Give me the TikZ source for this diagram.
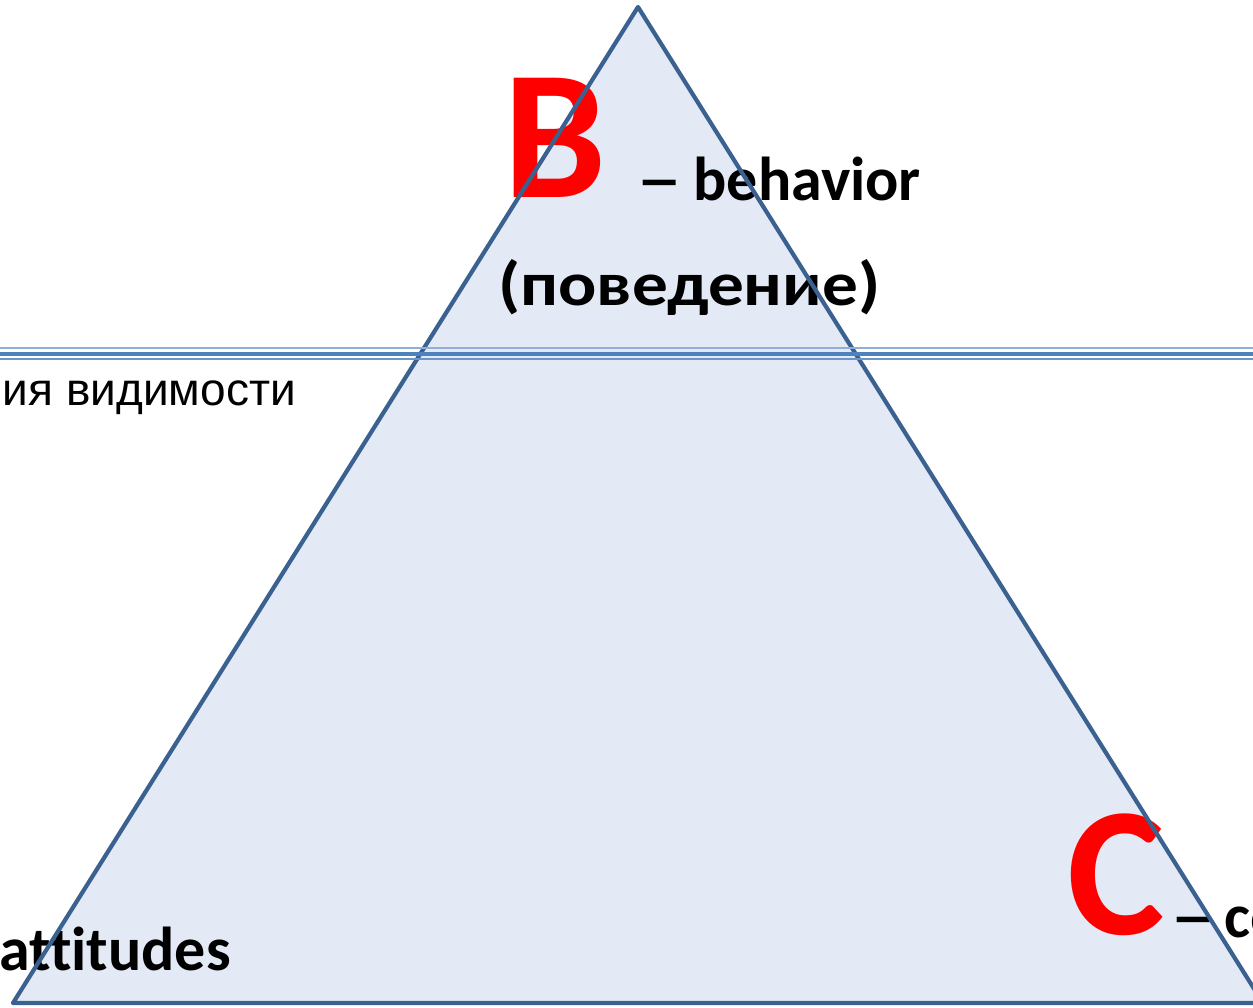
\documentclass[tikz,border=0pt]{standalone}
\usepackage{fontspec}
\setmainfont{Carlito}[Ligatures={NoCommon}]
\newfontfamily\arialf{Liberation Sans}
\definecolor{trifill}{HTML}{E3EAF5}
\definecolor{triedge}{HTML}{3A6190}
\definecolor{lineA}{HTML}{8EB0DB}
\definecolor{lineB}{HTML}{4F81BD}
\definecolor{lineC}{HTML}{6A95CC}
\definecolor{bigred}{HTML}{FF0000}
\newcommand{\longdash}{\scalebox{1.5}[1]{–}}
\tikzset{
  bigletter/.style={inner sep=0pt, anchor=base west, text=bigred, font=\fontsize{184}{184}\selectfont\bfseries},
  label/.style={inner sep=0pt, anchor=base west, font=\fontsize{62}{62}\selectfont\bfseries},
  plain/.style={inner sep=0pt, font=\arialf\fontsize{46}{46}\selectfont},
  edge/.style={draw=triedge, line width=4.2pt, line join=round}
}
\begin{document}
\begin{tikzpicture}[x=1pt,y=-1pt]
\useasboundingbox (0,0) rectangle (1253,1007);
\clip (0,0) rectangle (1253,1007);
\coordinate (apex) at (638,7);
\coordinate (bl) at (13,1003);
\coordinate (br) at (1263,1003);
\fill[trifill] (apex) -- (bl) -- (br) -- cycle;
\node[bigletter] (B) at (503,197) {B};
\node[label] (beh) at (636,200) {\longdash\hspace{11pt}behavior};
\node[label, xscale=1.15] (pov) at (498,305) {(поведение)};
\node[plain, anchor=base east] (vis) at (296,405) {ия видимости};
\node[label] (att) at (-1,970) {attitudes};
\node[bigletter] (C) at (1067,934) {C};
\node[label] (co) at (1170,937) {\longdash\hspace{8pt}co};
\draw[edge] (apex) -- (bl) -- (br) -- cycle;
\draw[lineA, line width=2pt] (0,348.3) -- (1253,348.3);
\draw[lineB, line width=4pt] (0,353.7) -- (1253,353.7);
\draw[lineC, line width=2pt] (0,358.8) -- (1253,358.8);
\end{tikzpicture}
\end{document}
